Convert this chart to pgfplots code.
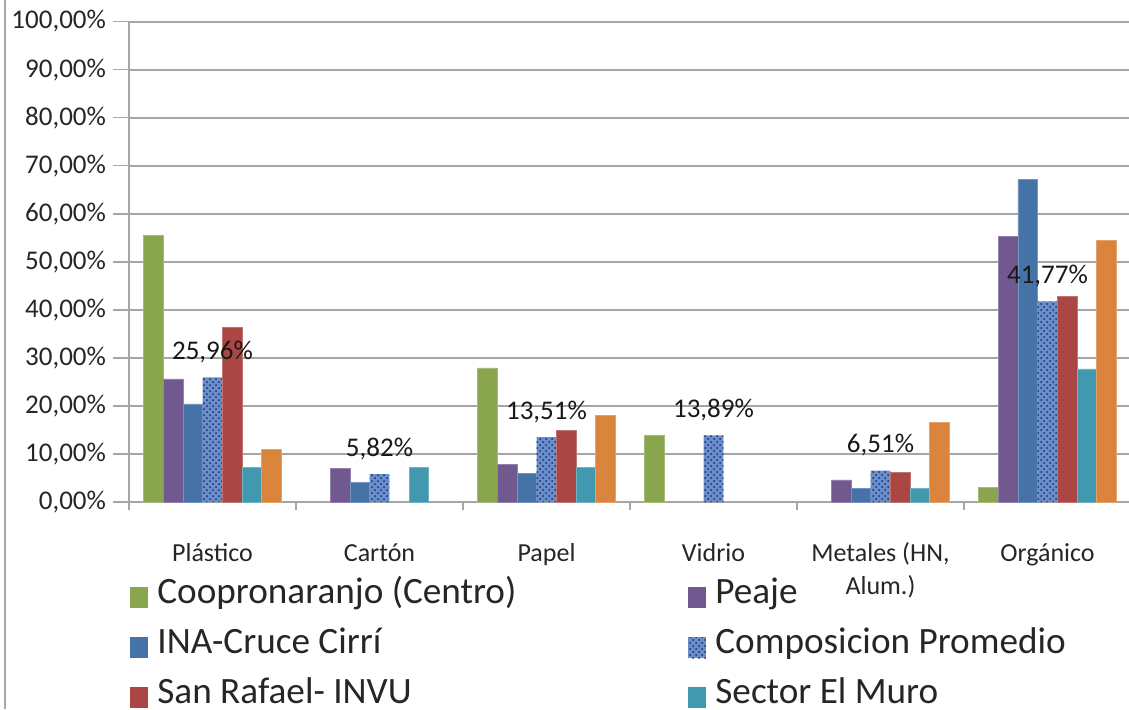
\documentclass[border=0pt]{standalone}
\usepackage{pgfplots}
\pgfplotsset{compat=1.18}
\usepackage{fontspec}
\setmainfont{Carlito}
\usetikzlibrary{patterns}
\definecolor{cgreen}{HTML}{89A54E}
\definecolor{cpurple}{HTML}{71588F}
\definecolor{cblue}{HTML}{4572A7}
\definecolor{cred}{HTML}{AA4643}
\definecolor{cteal}{HTML}{4198AF}
\definecolor{corange}{HTML}{DB843D}
\definecolor{cpatbase}{HTML}{6A8DCC}
\definecolor{cpatdot}{HTML}{17306A}
\definecolor{cgrid}{HTML}{A6A6A6}
\begin{document}
\begin{tikzpicture}
\useasboundingbox (0,0) rectangle (564.5pt,354.5pt);
\draw[cgrid, line width=1pt] (2.5pt,0) -- (2.5pt,354.5pt);
\begin{axis}[
  at={(64.5pt,103.5pt)}, anchor=south west,
  width=501pt, height=240.25pt, scale only axis,
  xmin=-0.5, xmax=5.5, ymin=0, ymax=100,
  ytick={0,10,...,100},
  xtick={0,1,2,3,4,5},
  xticklabels={Plástico,Cartón,Papel,Vidrio,{\begin{tabular}[t]{@{}c@{}}Metales (HN,\\Alum.)\end{tabular}},Orgánico},
  xtick pos=bottom, ytick pos=left,
  tick align=outside,
  major x tick style={draw=none},
  major y tick style={cgrid, line width=0.8pt},
  major tick length=8pt,
  extra x ticks={-0.5,0.5,1.5,2.5,3.5,4.5,5.5},
  extra x tick labels={},
  extra x tick style={grid=none, major tick length=4pt, major x tick style={cgrid, line width=0.8pt, draw=cgrid}},
  ymajorgrids,
  grid style={cgrid, line width=1pt},
  axis line style={cgrid, line width=1pt},
  /pgf/number format/assume math mode=true,
  yticklabel={\pgfmathprintnumber[fixed,fixed zerofill,precision=2,use comma]{\tick}\%},
  yticklabel style={font=\fontsize{13.5}{15}\selectfont, text=black!85},
  xticklabel style={font=\fontsize{13}{16.5}\selectfont, anchor=base, yshift=-21.5pt, text=black!85},
  ybar, bar width=0.118,
  legend columns=2,
  legend style={draw=none, fill=none, inner sep=0pt,
    at={(0.001,-0.1561)}, anchor=north west,
    font=\fontsize{18.6}{22}\selectfont,
    nodes={inner sep=0pt, text height=13pt, text depth=4pt, anchor=base west, text=black!85},
    row sep=8pt,
    /tikz/every odd column/.append style={column sep=4.5pt}},
  legend image code/.code={\draw[#1, draw=none] (0pt,-2.5pt) rectangle (9pt,8pt);},
]
\addplot[fill=cgreen, draw=cgreen!75!white, line width=0.4pt, bar shift=-0.354] coordinates {(0,55.5) (2,27.9) (3,13.9) (5,3.0)};
\addplot[fill=cpurple, draw=cpurple!75!white, line width=0.4pt, bar shift=-0.236] coordinates {(0,25.6) (1,6.9) (2,7.9) (4,4.6) (5,55.3)};
\addplot[fill=cblue, draw=cblue!75!white, line width=0.4pt, bar shift=-0.118] coordinates {(0,20.4) (1,4.0) (2,6.0) (4,2.9) (5,67.1)};
\addplot[fill=cpatbase, draw=none, bar shift=0,
  postaction={pattern=crosshatch dots, pattern color=cpatdot},
  nodes near coords={\pgfmathprintnumber[fixed,fixed zerofill,precision=2,use comma]{\pgfplotspointmeta}\%},
  nodes near coords style={anchor=base, yshift=9pt, inner sep=0pt, font=\fontsize{13.5}{16}\selectfont, text=black!90}
  ] coordinates {(0,25.96) (1,5.82) (2,13.51) (3,13.89) (4,6.51) (5,41.77)};
\addplot[fill=cred, draw=cred!75!white, line width=0.4pt, bar shift=0.118] coordinates {(0,36.4) (2,14.8) (4,6.2) (5,42.8)};
\addplot[fill=cteal, draw=cteal!75!white, line width=0.4pt, bar shift=0.236] coordinates {(0,7.1) (1,7.1) (2,7.1) (4,2.9) (5,27.7)};
\addplot[fill=corange, draw=corange!75!white, line width=0.4pt, bar shift=0.354] coordinates {(0,11.0) (2,18.1) (4,16.6) (5,54.5)};
\legend{\makebox[265.5pt][l]{Coopronaranjo (Centro)},Peaje,\makebox[265.5pt][l]{INA-Cruce Cirrí},Composicion Promedio,\makebox[265.5pt][l]{San Rafael- INVU},Sector El Muro}
\end{axis}
\end{tikzpicture}
\end{document}
